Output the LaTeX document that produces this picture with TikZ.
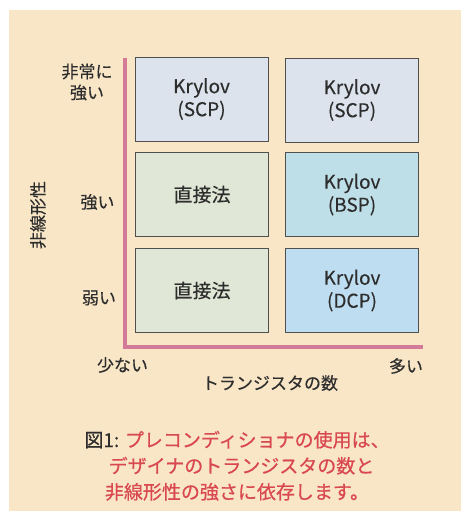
\documentclass[tikz,border=0pt]{standalone}
\usepackage{fontspec}
\setmainfont[FakeBold=0.3]{Noto Sans CJK JP}
\newfontfamily\capfont[FakeBold=0.6]{Noto Sans CJK JP}
\definecolor{bg}{RGB}{248,230,198}
\definecolor{axispink}{RGB}{211,122,152}
\definecolor{scp}{RGB}{220,227,236}
\definecolor{direct}{RGB}{224,231,214}
\definecolor{bsp}{RGB}{191,223,232}
\definecolor{dcp}{RGB}{190,221,241}
\definecolor{capred}{RGB}{217,72,79}
\definecolor{txt}{RGB}{45,45,45}
\definecolor{edge}{RGB}{80,80,80}
\tikzset{
  cell/.style={draw=edge, line width=0.9pt, minimum width=133pt, minimum height=84pt,
    inner sep=0pt, align=center, text=txt, font=\fontsize{19}{23}\selectfont},
  lab/.style={text=txt, align=center, inner sep=0pt, font=\fontsize{17}{21}\selectfont},
  captext/.style={text=capred, inner sep=0pt, font=\capfont\fontsize{19}{26}\selectfont}
}
\begin{document}
\begin{tikzpicture}[x=1pt,y=-1pt]
\useasboundingbox (0,0) rectangle (461,511);
\fill[white] (0,0) rectangle (461,511);
\fill[bg] (9,10) rectangle (461,511);
% cells
\node[cell, fill=scp] (c11) at (201.5,99) {Krylov\\(SCP)};
\node[cell, fill=scp] (c12) at (352,100) {Krylov\\(SCP)};
\node[cell, fill=direct] (c21) at (202,194.5) {直接法};
\node[cell, fill=bsp] (c22) at (352,194.5) {Krylov\\(BSP)};
\node[cell, fill=direct] (c31) at (202,290.5) {直接法};
\node[cell, fill=dcp] (c32) at (352,290.5) {Krylov\\(DCP)};
% axes
\coordinate (ytop) at (124.5,58);
\coordinate (origin) at (124.5,346.5);
\coordinate (xend) at (423,346.5);
\draw[axispink, line width=4pt, line join=miter] (ytop) -- (origin) -- (xend);
% labels
\node[lab] (l1) at (87,82) {非常に\\強い};
\node[lab] (l2) at (97.5,202) {強い};
\node[lab] (l3) at (99,298) {弱い};
\node[lab, rotate=90] (ylab) at (38,215) {非線形性};
\node[lab] (xl1) at (122.5,365) {少ない};
\node[lab] (xl2) at (406,366) {多い};
\node[lab] (xlab) at (270,383) {トランジスタの数};
% caption
\node[captext, anchor=base] (cap1) at (237,447) {\textcolor{txt}{図1:} プレコンディショナの使用は、};
\node[captext, anchor=base] (cap2) at (241.5,473) {デザイナのトランジスタの数と};
\node[captext, anchor=base] (cap3) at (237,499) {非線形性の強さに依存します。};
\end{tikzpicture}
\end{document}
